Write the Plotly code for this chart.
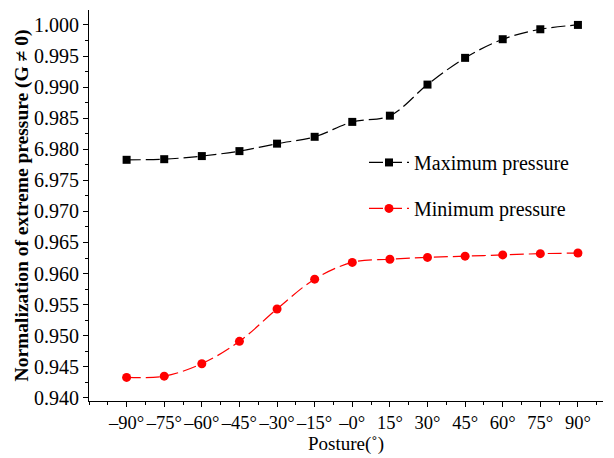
import plotly.graph_objects as go

postures = [-90, -75, -60, -45, -30, -15, 0, 15, 30, 45, 60, 75, 90]
posture_labels = ["–90°", "–75°", "–60°", "–45°", "–30°", "–15°", "–0°",
                  "15°", "30°", "45°", "60°", "75°", "90°"]
max_pressure = [0.9783, 0.9784, 0.9789, 0.9797, 0.9809, 0.9820, 0.9844,
                0.9854, 0.9904, 0.9947, 0.9977, 0.9993, 1.0000]
min_pressure = [0.9433, 0.9435, 0.9455, 0.9491, 0.9543, 0.9591, 0.9618,
                0.9623, 0.9626, 0.9628, 0.9630, 0.9632, 0.9633]
y_ticks = [0.940, 0.945, 0.950, 0.955, 0.960, 0.965, 0.970, 0.975, 0.980,
           0.985, 0.990, 0.995, 1.000]
y_tick_labels = ["0.940", "0.945", "0.950", "0.955", "0.960", "0.965", "0.970",
                 "6.975", "6.980", "0.985", "0.990", "0.995", "1.000"]

font = "Liberation Serif, Times New Roman, serif"

fig = go.Figure()
fig.add_trace(go.Scatter(
    x=postures, y=max_pressure, name="Maximum pressure",
    mode="lines+markers", legendgroup="max",
    line=dict(color="black", width=1.2, dash="14px,5px", shape="spline"),
    marker=dict(symbol="square", size=8, color="black"),
))
fig.add_trace(go.Scatter(
    x=postures, y=min_pressure, name="Minimum pressure",
    mode="lines+markers", legendgroup="min",
    line=dict(color="red", width=1.2, dash="14px,5px", shape="spline"),
    marker=dict(symbol="circle", size=9, color="red"),
))

fig.update_layout(
    width=606, height=450,
    margin=dict(l=81, r=11, t=2, b=57),
    paper_bgcolor="white", plot_bgcolor="white",
    font=dict(family=font, size=18, color="black"),
    showlegend=True,
    legend=dict(x=0.535, y=0.66, xanchor="left", yanchor="top",
                bgcolor="rgba(0,0,0,0)", font=dict(size=20),
                tracegroupgap=17, itemwidth=40),
    xaxis=dict(
        range=[-105, 100], automargin=False,
        tickmode="array", tickvals=postures, ticktext=posture_labels,
        tickangle=0,
        showline=True, linecolor="black", linewidth=1.2,
        ticks="outside", ticklen=5, tickcolor="black",
        minor=dict(ticks="outside", ticklen=3, dtick=7.5, tick0=-97.5, tickcolor="black"),
        showgrid=False, zeroline=False, mirror=False,
        title=dict(text="Posture(˚)", font=dict(size=19), standoff=2),
        tickfont=dict(size=18.5),
    ),
    yaxis=dict(
        range=[0.9395, 1.0024], automargin=False,
        tickmode="array", tickvals=y_ticks, ticktext=y_tick_labels,
        showline=True, linecolor="black", linewidth=1.2,
        ticks="outside", ticklen=5, tickcolor="black",
        minor=dict(ticks="outside", ticklen=3, dtick=0.0025, tick0=0.94, tickcolor="black"),
        showgrid=False, zeroline=False, mirror=False,
        title=dict(text="<b>Normalization of extreme pressure (G ≠ 0)</b>",
                   font=dict(size=19.5), standoff=0),
        tickfont=dict(size=20),
    ),
)

fig.write_html("out.html")
